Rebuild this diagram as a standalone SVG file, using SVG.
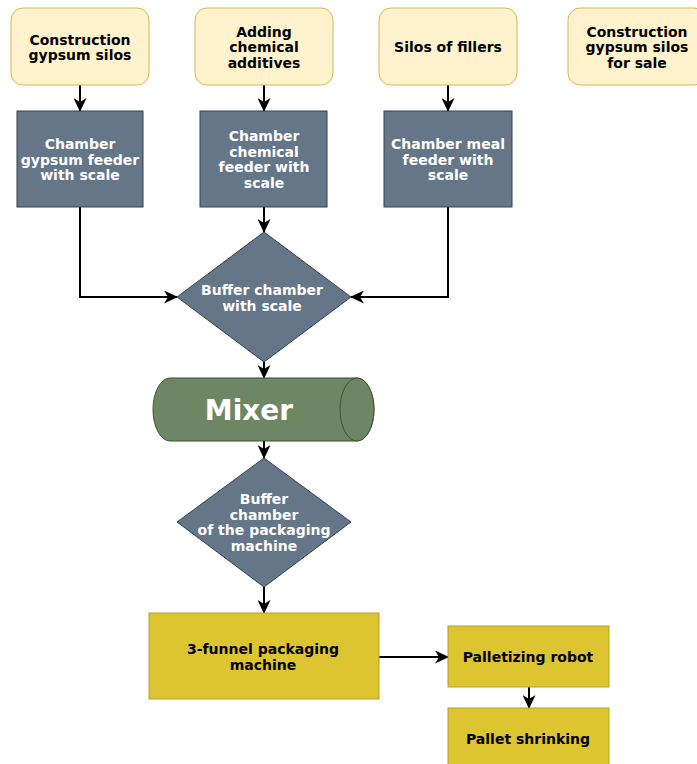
<svg xmlns="http://www.w3.org/2000/svg" width="697" height="764" viewBox="0 0 697 764">
<defs>
<marker id="arr" viewBox="0 0 14 13" markerWidth="14" markerHeight="13" refX="13" refY="6.5" orient="auto" markerUnits="userSpaceOnUse">
<path d="M0,0 L14,6.5 L0,13 L4,6.5 z" fill="#000"/>
</marker>
<style>
.silo{fill:#fff2cc;stroke:#d6b656;stroke-width:1}
.ch{fill:#647687;stroke:#314354;stroke-width:1}
.gold{fill:#dcc530;stroke:#b8a02a;stroke-width:1}
.mix{fill:#6d8764;stroke:#3a5431;stroke-width:1}
text{font-family:"DejaVu Sans","Liberation Sans",sans-serif;font-weight:bold;font-size:14px;text-anchor:middle}
.dk{fill:#000}
.wt{fill:#fff}
.con{fill:none;stroke:#000;stroke-width:2;marker-end:url(#arr)}
</style>
</defs>
<rect width="697" height="764" fill="#fff"/>
<g id="connectors">
<path class="con" d="M80,85 L80,111"/>
<path class="con" d="M264,85 L264,111"/>
<path class="con" d="M448,85 L448,111"/>
<path class="con" d="M80,207 L80,297 L177,297"/>
<path class="con" d="M264,207 L264,232"/>
<path class="con" d="M448,207 L448,297 L351,297"/>
<path class="con" d="M264,362 L264,378"/>
<path class="con" d="M264,441 L264,458"/>
<path class="con" d="M264,587 L264,613"/>
<path class="con" d="M379,657 L448,657"/>
<path class="con" d="M529,687 L529,708"/>
</g>
<g id="silo1">
<rect class="silo" x="11" y="8" width="138" height="77" rx="12"/>
<text class="dk" x="80" y="44.5">Construction</text>
<text class="dk" x="80" y="60">gypsum silos</text>
</g>
<g id="silo2">
<rect class="silo" x="195" y="8" width="138" height="77" rx="12"/>
<text class="dk" x="264" y="36.5">Adding</text>
<text class="dk" x="264" y="52">chemical</text>
<text class="dk" x="264" y="67.5">additives</text>
</g>
<g id="silo3">
<rect class="silo" x="379" y="8" width="138" height="77" rx="12"/>
<text class="dk" x="448" y="52">Silos of fillers</text>
</g>
<g id="silo4">
<rect class="silo" x="568" y="8" width="138" height="77" rx="12"/>
<text class="dk" x="637" y="36.5">Construction</text>
<text class="dk" x="637" y="52">gypsum silos</text>
<text class="dk" x="637" y="67.5">for sale</text>
</g>
<g id="feeder1">
<rect class="ch" x="17" y="111" width="126" height="96"/>
<text class="wt" x="80" y="149">Chamber</text>
<text class="wt" x="80" y="164.5">gypsum feeder</text>
<text class="wt" x="80" y="180">with scale</text>
</g>
<g id="feeder2">
<rect class="ch" x="200" y="111" width="127" height="96"/>
<text class="wt" x="264" y="141">Chamber</text>
<text class="wt" x="264" y="156.5">chemical</text>
<text class="wt" x="264" y="172">feeder with</text>
<text class="wt" x="264" y="187.5">scale</text>
</g>
<g id="feeder3">
<rect class="ch" x="384" y="111" width="128" height="96"/>
<text class="wt" x="448" y="149">Chamber meal</text>
<text class="wt" x="448" y="164.5">feeder with</text>
<text class="wt" x="448" y="180">scale</text>
</g>
<g id="buffer1">
<polygon class="ch" points="264,232 351,297 264,362 177,297"/>
<text class="wt" x="262" y="295">Buffer chamber</text>
<text class="wt" x="262" y="310.5">with scale</text>
</g>
<g id="mixer">
<path class="mix" d="M170,378 L357,378 A17,31.5 0 0 1 357,441 L170,441 A17,31.5 0 0 1 170,378 Z"/>
<ellipse class="mix" cx="357" cy="409.5" rx="17" ry="31.5"/>
<text class="wt" x="249" y="420" style="font-size:28px">Mixer</text>
</g>
<g id="buffer2">
<polygon class="ch" points="264,458 351,522 264,587 177,522"/>
<text class="wt" x="264" y="504">Buffer</text>
<text class="wt" x="264" y="519.5">chamber</text>
<text class="wt" x="264" y="535">of the packaging</text>
<text class="wt" x="264" y="550.5">machine</text>
</g>
<g id="packaging">
<rect class="gold" x="149" y="613" width="230" height="86"/>
<text class="dk" x="263" y="654">3-funnel packaging</text>
<text class="dk" x="263" y="669.5">machine</text>
</g>
<g id="palletizing">
<rect class="gold" x="448" y="626" width="161" height="61"/>
<text class="dk" x="528" y="662">Palletizing robot</text>
</g>
<g id="shrinking">
<rect class="gold" x="448" y="708" width="161" height="62"/>
<text class="dk" x="528" y="744">Pallet shrinking</text>
</g>
</svg>
